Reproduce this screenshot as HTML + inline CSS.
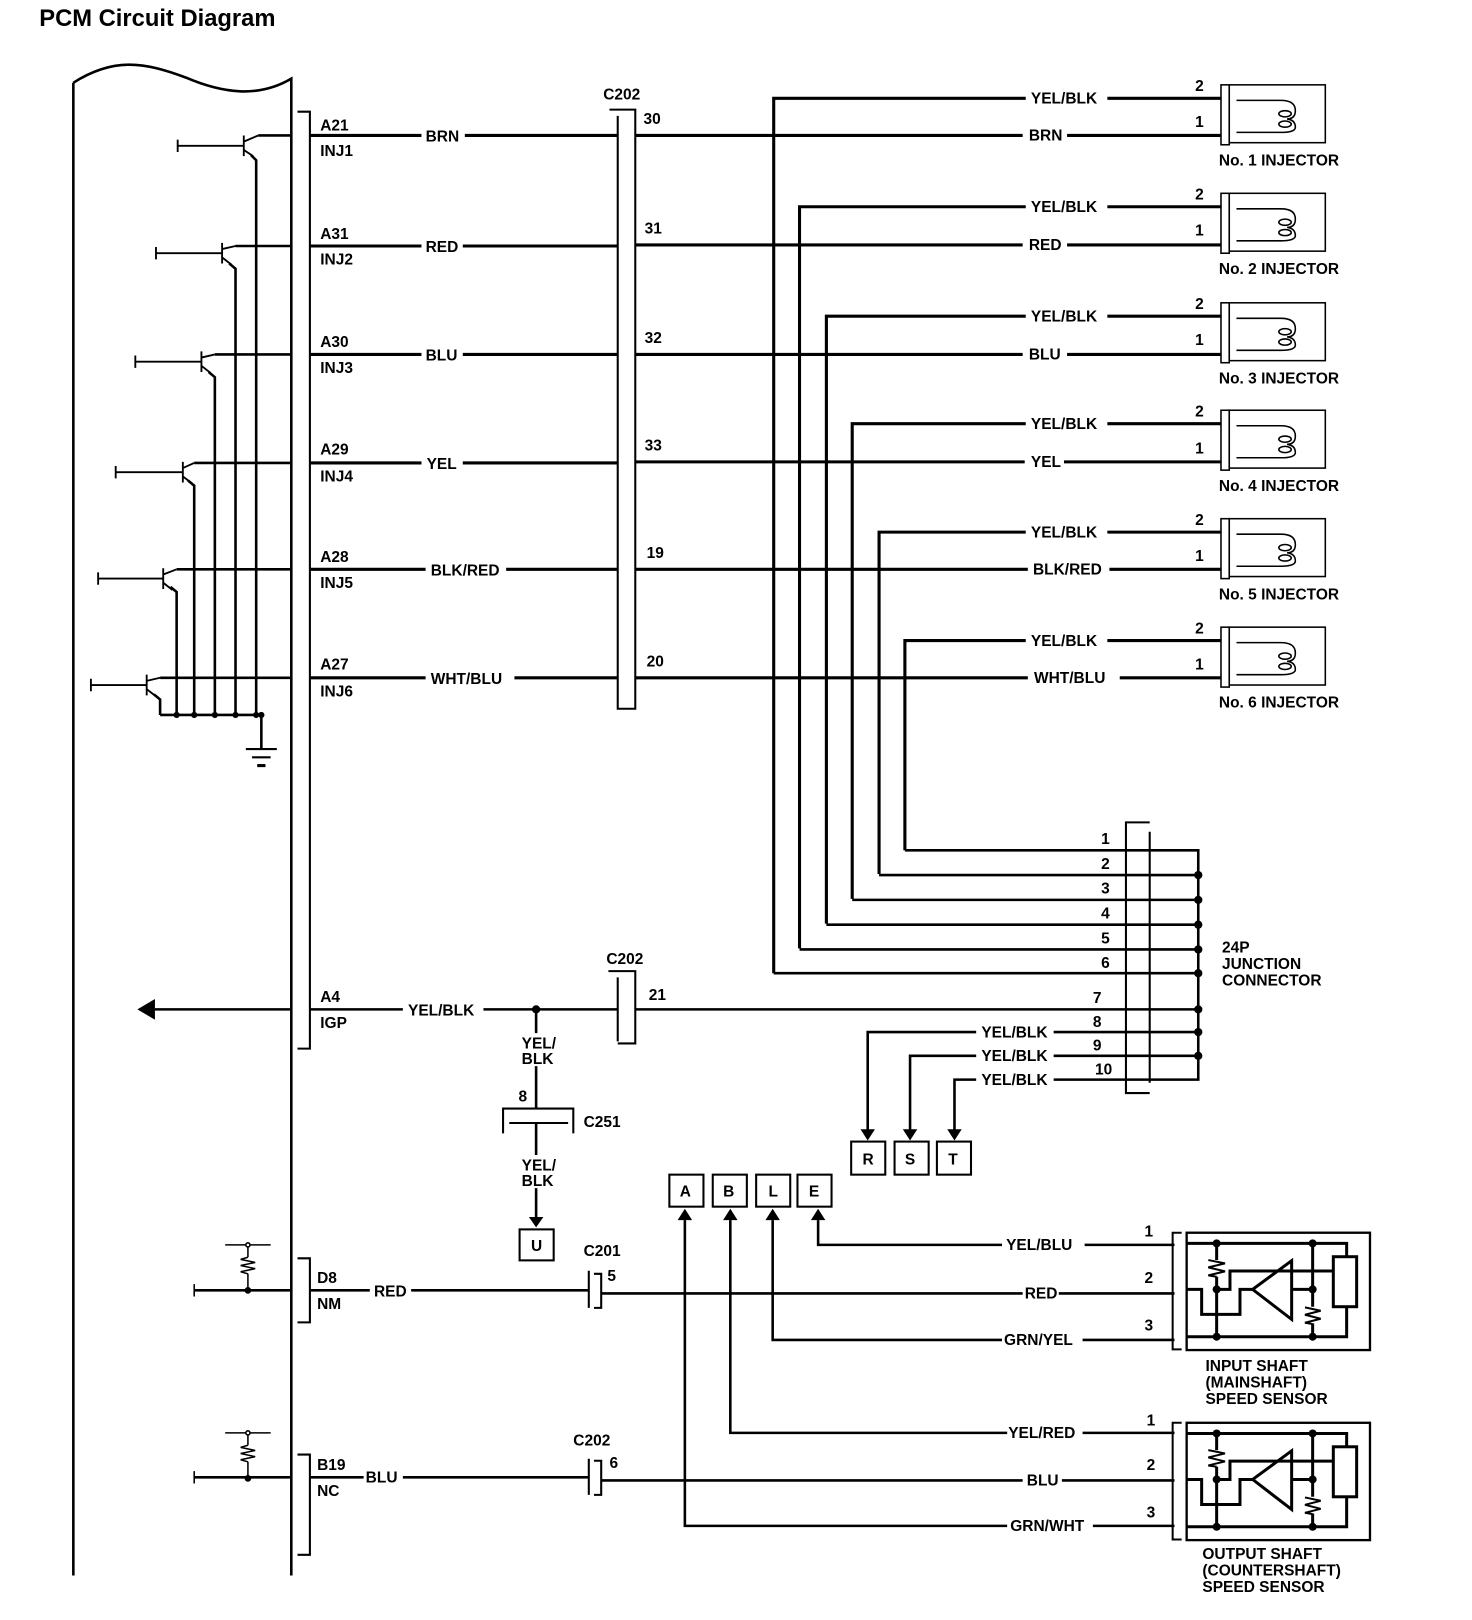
<!DOCTYPE html>
<html><head><meta charset="utf-8"><style>
html,body{margin:0;padding:0;background:#fff}
svg{display:block}
text{font-family:"Liberation Sans",sans-serif;font-weight:bold;font-size:15px;fill:#000}
</style></head><body>
<svg width="1472" height="1620" viewBox="0 0 1425 1568" xmlns="http://www.w3.org/2000/svg">
<defs>
<g id="sensor" fill="none" stroke="#000" stroke-width="9">
  <path d="M245,68 H218 V418 H245" stroke-width="6"/>
  <rect x="260" y="68" width="550" height="352" stroke-width="7"/>
  <path d="M260,100 H740 V140"/>
  <rect x="700" y="140" width="70" height="150"/>
  <path d="M260,380 H740 V290"/>
  <path d="M350,100 V150 M350,200 V380"/>
  <path d="M325,150 L375,160 L325,172 L375,184 L325,196 L350,200" stroke-width="6"/>
  <path d="M638,100 V290 M638,340 V380"/>
  <path d="M615,292 L662,302 L615,314 L662,326 L615,338 L638,342" stroke-width="6"/>
  <path d="M260,238 H305 V313 H420 V238 H458"/>
  <path d="M350,238 H390 V183 H700"/>
  <path d="M458,238 L575,152 V328 Z"/>
  <path d="M575,238 H638"/>
  <g fill="#000" stroke="none">
   <circle cx="350" cy="100" r="12"/><circle cx="638" cy="100" r="12"/>
   <circle cx="350" cy="238" r="12"/><circle cx="638" cy="238" r="12"/>
   <circle cx="350" cy="380" r="12"/><circle cx="638" cy="380" r="12"/>
  </g>
</g>
<g id="inj" fill="none" stroke="#000">
  <path d="M1072,95 H1182 M1182,131 H1182" stroke-width="3"/>
  <rect x="1182" y="82" width="8" height="58" stroke-width="1.5"/>
  <rect x="1190" y="82" width="93" height="56" stroke-width="1.5"/>
  <path d="M1197,97 H1240 Q1254,97 1254,107 Q1254,115 1246,115 Q1254,116 1254,123 Q1254,128 1240,128 H1197" stroke-width="1.5"/>
  <ellipse cx="1244" cy="110" rx="6" ry="3" stroke-width="1.5"/>
  <ellipse cx="1244" cy="120" rx="6" ry="3" stroke-width="1.5"/>
</g>
<g id="res" fill="none" stroke="#000" stroke-width="1.5">
  <path d="M-22,0 H22"/><path d="M0,0 V12 M0,28 V44"/>
  <path d="M0,12 L-7,14 L7,17 L-7,20 L7,23 L-7,26 L0,28"/>
  <circle cx="0" cy="0" r="2" fill="#fff"/><circle cx="0" cy="44" r="2.5" fill="#000"/>
</g>
</defs>

<text x="38" y="25" style="font-size:23px">PCM Circuit Diagram</text>

<path d="M71,80 C110,55 140,60 180,75 C215,90 250,95 282,76 V1525 M71,80 V1525" fill="none" stroke="#000" stroke-width="2.5"/>

<path d="M288,108 H300 V1015 H288" fill="none" stroke="#000" stroke-width="2"/>
<path d="M288,1218 H300 V1280 H288 M288,1408 H300 V1505 H288" fill="none" stroke="#000" stroke-width="2"/>

<g fill="none" stroke="#000" stroke-width="2.5">
 <path d="M250,131 H282 M228,238 H282 M208,343 H282 M188,448 H282 M171,551 H282 M155,656 H282"/>
 <path d="M243,150 L248,155 V692"/>
 <path d="M222,255 L228,260 V692"/>
 <path d="M202,360 L208,365 V692"/>
 <path d="M182,465 L188,470 V692"/>
 <path d="M165,568 L171,573 V692"/>
 <path d="M149,672 L155,677 V692"/>
 <path d="M155,692 H253 V724"/>
 <path d="M238,725 H268 M244,733 H262" stroke-width="2"/>
 <path d="M249,741 H257" stroke-width="3"/>
</g>
<g fill="none" stroke="#000" stroke-width="1.8">
 <path d="M172,141 H236 M236,131 V151 M236,137 L250,131 M236,145 L245,151 M172,135 V147"/>
 <path d="M151,245 H215 M215,235 V255 M215,241 L228,238 M215,249 L224,256 M151,239 V251"/>
 <path d="M131,350 H195 M195,340 V360 M195,346 L208,343 M195,354 L204,361 M131,344 V356"/>
 <path d="M112,457 H177 M177,447 V467 M177,453 L188,448 M177,461 L186,468 M112,451 V463"/>
 <path d="M95,560 H158 M158,550 V570 M158,556 L171,551 M158,564 L167,571 M95,554 V566"/>
 <path d="M88,663 H142 M142,653 V673 M142,659 L155,656 M142,667 L151,674 M88,657 V669"/>
</g>
<g fill="#000">
 <circle cx="171" cy="692" r="3"/><circle cx="188" cy="692" r="3"/><circle cx="208" cy="692" r="3"/><circle cx="228" cy="692" r="3"/><circle cx="248" cy="692" r="3"/><circle cx="253" cy="692" r="3"/>
</g>

<text x="310" y="126">A21</text><text x="310" y="151">INJ1</text>
<text x="310" y="231">A31</text><text x="310" y="256">INJ2</text>
<text x="310" y="336">A30</text><text x="310" y="361">INJ3</text>
<text x="310" y="440">A29</text><text x="310" y="466">INJ4</text>
<text x="310" y="544">A28</text><text x="310" y="569">INJ5</text>
<text x="310" y="648">A27</text><text x="310" y="674">INJ6</text>
<text x="310" y="970">A4</text><text x="310" y="995">IGP</text>
<text x="307" y="1242">D8</text><text x="307" y="1267">NM</text>
<text x="307" y="1423">B19</text><text x="307" y="1448">NC</text>

<path d="M590,106 H615 V686 H598 V112" fill="none" stroke="#000" stroke-width="2"/>
<text x="584" y="96">C202</text>
<text x="623" y="120">30</text><text x="624" y="226">31</text><text x="624" y="332">32</text>
<text x="624" y="436">33</text><text x="626" y="540">19</text><text x="626" y="645">20</text>

<g fill="none" stroke="#000" stroke-width="3">
 <path d="M300,131 H408 M450,131 H598 M615,131 H990 M1033,131 H1182"/>
 <path d="M300,238 H408 M448,238 H598 M615,237 H990 M1033,237 H1182"/>
 <path d="M300,343 H408 M448,343 H598 M615,343 H990 M1033,343 H1182"/>
 <path d="M300,448 H408 M448,448 H598 M615,447 H992 M1030,447 H1182"/>
 <path d="M300,551 H412 M490,551 H598 M615,551 H995 M1074,551 H1182"/>
 <path d="M300,656 H412 M498,656 H598 M615,656 H995 M1084,656 H1182"/>
 <path d="M749,942 V95 H993"/>
 <path d="M774,918 V200 H993"/>
 <path d="M800,894 V306 H993"/>
 <path d="M825,870 V410 H993"/>
 <path d="M851,846 V515 H993"/>
 <path d="M876,823 V620 H993"/>
</g>
<text x="412" y="137">BRN</text><text x="412" y="244">RED</text><text x="412" y="349">BLU</text>
<text x="413" y="454">YEL</text><text x="417" y="557">BLK/RED</text><text x="417" y="662">WHT/BLU</text>
<text x="996" y="136">BRN</text><text x="996" y="242">RED</text><text x="996" y="348">BLU</text>
<text x="998" y="452">YEL</text><text x="1000" y="556">BLK/RED</text><text x="1001" y="661">WHT/BLU</text>
<text x="998" y="100">YEL/BLK</text><text x="998" y="205">YEL/BLK</text><text x="998" y="311">YEL/BLK</text>
<text x="998" y="415">YEL/BLK</text><text x="998" y="520">YEL/BLK</text><text x="998" y="625">YEL/BLK</text>

<use href="#inj"/>
<use href="#inj" transform="translate(0,105)"/>
<use href="#inj" transform="translate(0,211)"/>
<use href="#inj" transform="translate(0,315)"/>
<use href="#inj" transform="translate(0,420)"/>
<use href="#inj" transform="translate(0,525)"/>
<g>
 <text x="1157" y="88">2</text><text x="1157" y="123">1</text><text x="1180" y="160">No. 1 INJECTOR</text>
 <text x="1157" y="193">2</text><text x="1157" y="228">1</text><text x="1180" y="265">No. 2 INJECTOR</text>
 <text x="1157" y="299">2</text><text x="1157" y="334">1</text><text x="1180" y="371">No. 3 INJECTOR</text>
 <text x="1157" y="403">2</text><text x="1157" y="439">1</text><text x="1180" y="475">No. 4 INJECTOR</text>
 <text x="1157" y="508">2</text><text x="1157" y="543">1</text><text x="1180" y="580">No. 5 INJECTOR</text>
 <text x="1157" y="613">2</text><text x="1157" y="648">1</text><text x="1180" y="685">No. 6 INJECTOR</text>
</g>

<g fill="none" stroke="#000">
 <path d="M1113,796 H1090 V1058 H1113 M1113,805 V1048" stroke-width="2"/>
 <path d="M876,823 H1160 V1045 H1090" stroke-width="2.5"/>
 <path d="M851,847 H1160 M825,871 H1160 M800,895 H1160 M774,919 H1160 M749,942 H1160 M615,977 H1160 M1020,999 H1160 M1020,1022 H1160 M1020,1045 H1090" stroke-width="2.5"/>
</g>
<g fill="#000">
 <circle cx="1160" cy="847" r="4"/><circle cx="1160" cy="871" r="4"/><circle cx="1160" cy="895" r="4"/>
 <circle cx="1160" cy="919" r="4"/><circle cx="1160" cy="942" r="4"/><circle cx="1160" cy="977" r="4"/>
 <circle cx="1160" cy="999" r="4"/><circle cx="1160" cy="1022" r="4"/>
</g>
<text x="1066" y="817">1</text><text x="1066" y="841">2</text><text x="1066" y="865">3</text>
<text x="1066" y="889">4</text><text x="1066" y="913">5</text><text x="1066" y="937">6</text>
<text x="1058" y="971">7</text><text x="1058" y="994">8</text><text x="1058" y="1017">9</text><text x="1060" y="1040">10</text>
<text x="1183" y="922">24P</text><text x="1183" y="938">JUNCTION</text><text x="1183" y="954">CONNECTOR</text>

<g fill="none" stroke="#000" stroke-width="2.5">
 <path d="M150,977 H282 M300,977 H390 M468,977 H598"/>
 <path d="M519,977 V1000 M519,1032 V1073 M519,1087 V1118 M519,1150 V1180"/>
 <path d="M589,940 H615 V1010 H598 M598,946 V1008" stroke-width="2"/>
 <path d="M487,1097 V1073 H555 V1097 M493,1087 H550" stroke-width="2"/>
</g>
<path d="M133,977 L150,967 V987 Z" fill="#000"/>
<circle cx="519" cy="977" r="4" fill="#000"/>
<text x="395" y="983">YEL/BLK</text>
<text x="587" y="933">C202</text><text x="628" y="968">21</text>
<text x="505" y="1015">YEL/</text><text x="505" y="1030">BLK</text>
<text x="502" y="1066">8</text><text x="565" y="1091">C251</text>
<text x="505" y="1133">YEL/</text><text x="505" y="1148">BLK</text>
<path d="M512,1178 H526 L519,1188 Z" fill="#000"/>
<rect x="503" y="1190" width="33" height="30" fill="none" stroke="#000" stroke-width="2"/>
<text x="514" y="1211">U</text>

<g fill="none" stroke="#000" stroke-width="2.5">
 <path d="M945,999 H840 V1095 M945,1022 H881 V1095 M945,1045 H924 V1095"/>
</g>
<text x="950" y="1004">YEL/BLK</text><text x="950" y="1027">YEL/BLK</text><text x="950" y="1050">YEL/BLK</text>
<path d="M833,1093 H847 L840,1104 Z M874,1093 H888 L881,1104 Z M917,1093 H931 L924,1104 Z" fill="#000"/>
<g fill="none" stroke="#000" stroke-width="2">
 <rect x="824" y="1105" width="33" height="32"/><rect x="866" y="1105" width="33" height="32"/><rect x="907" y="1105" width="33" height="32"/>
 <rect x="648" y="1137" width="33" height="31"/><rect x="690" y="1137" width="33" height="31"/><rect x="732" y="1137" width="33" height="31"/><rect x="772" y="1137" width="33" height="31"/>
</g>
<text x="835" y="1127">R</text><text x="876" y="1127">S</text><text x="918" y="1127">T</text>
<text x="658" y="1158">A</text><text x="700" y="1158">B</text><text x="744" y="1158">L</text><text x="783" y="1158">E</text>
<path d="M656,1181 H670 L663,1170 Z M700,1181 H714 L707,1170 Z M741,1181 H755 L748,1170 Z M785,1181 H799 L792,1170 Z" fill="#000"/>

<g fill="none" stroke="#000" stroke-width="2.5">
 <path d="M792,1181 V1205 H970 M1050,1205 H1137"/>
 <path d="M188,1249 H282 M300,1249 H358 M398,1249 H570 M582,1252 H990 M1025,1252 H1137"/>
 <path d="M748,1181 V1297 H970 M1048,1297 H1137"/>
 <path d="M707,1181 V1387 H975 M1048,1387 H1137"/>
 <path d="M188,1430 H282 M300,1430 H352 M390,1430 H570 M582,1433 H990 M1028,1433 H1137"/>
 <path d="M663,1181 V1477 H975 M1058,1477 H1137"/>
 <path d="M570,1230 V1266 M570,1412 V1447" stroke-width="2"/>
 <path d="M575,1233 H582 V1266 H575 M575,1414 H582 V1447 H575" stroke-width="2"/>
</g>
<path d="M188,1243 V1255 M188,1424 V1436" stroke="#000" stroke-width="1.5"/>
<use href="#res" transform="translate(240,1205)"/>
<use href="#res" transform="translate(240,1387)"/>
<text x="362" y="1255">RED</text><text x="354" y="1435">BLU</text>
<text x="565" y="1216">C201</text><text x="588" y="1240">5</text>
<text x="555" y="1399">C202</text><text x="590" y="1421">6</text>
<text x="974" y="1210">YEL/BLU</text><text x="992" y="1257">RED</text><text x="972" y="1302">GRN/YEL</text>
<text x="976" y="1392">YEL/RED</text><text x="994" y="1438">BLU</text><text x="978" y="1482">GRN/WHT</text>
<text x="1108" y="1197">1</text><text x="1108" y="1242">2</text><text x="1108" y="1288">3</text>
<text x="1110" y="1380">1</text><text x="1110" y="1423">2</text><text x="1110" y="1469">3</text>

<use href="#sensor" transform="translate(1064.86,1171.28) scale(0.32269)"/>
<use href="#sensor" transform="translate(1064.86,1355.28) scale(0.32269)"/>
<text x="1167" y="1327">INPUT SHAFT</text><text x="1167" y="1343">(MAINSHAFT)</text><text x="1167" y="1359">SPEED SENSOR</text>
<text x="1164" y="1509">OUTPUT SHAFT</text><text x="1164" y="1525">(COUNTERSHAFT)</text><text x="1164" y="1541">SPEED SENSOR</text>
</svg>
</body></html>
